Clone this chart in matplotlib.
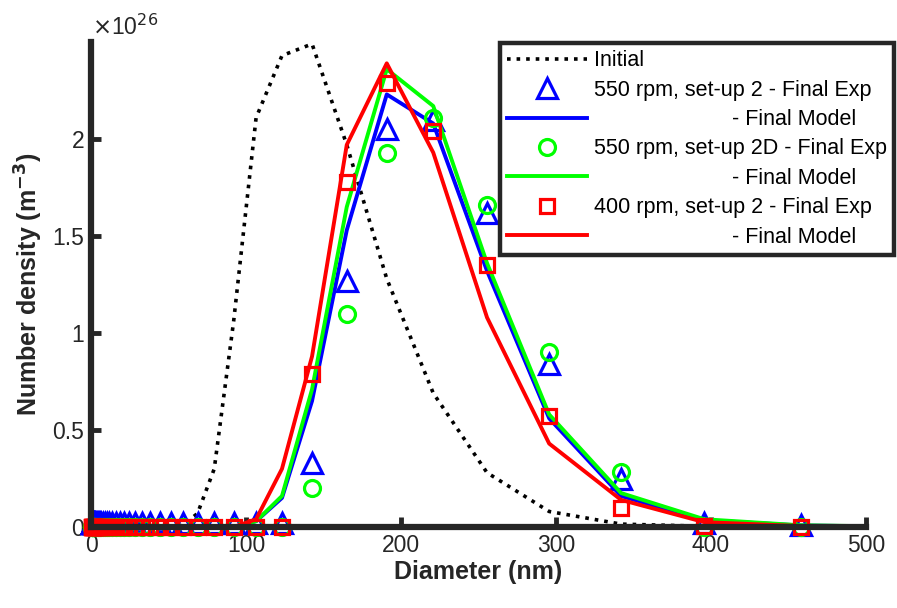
import numpy as np
import matplotlib
matplotlib.use('Agg')
import matplotlib.pyplot as plt

plt.rcParams['font.family'] = ['Liberation Sans', 'DejaVu Sans']

# diameters of the size classes (nm)
diam = [0.5, 0.6, 0.7, 0.8, 0.9, 1.0, 1.2, 1.4, 1.6, 1.8,
        2.1, 2.4, 2.8, 3.2, 3.7, 4.3, 5.0, 5.7, 6.6, 7.7,
        8.9, 10.3, 11.9, 13.8, 15.9, 18.4, 21.3, 24.7, 28.5, 33.0,
        38.3, 44.3, 51.3, 59.3, 68.7, 79.5, 92.0, 106.5, 123.2, 142.6,
        165.0, 190.8, 220.8, 255.5, 295.6, 342.0, 395.7, 457.8]
# model / initial grid goes one class further (clipped at 500)
diam_model = diam + [529.8]

# number density in units of 1e26 m^-3
initial = [0, 0, 0, 0, 0, 0, 0, 0, 0, 0,
           0, 0, 0, 0, 0, 0, 0, 0, 0, 0,
           0, 0, 0, 0, 0, 0, 0, 0, 0, 0,
           0, 0, 0, 0.01, 0.07, 0.30, 1.06, 2.11, 2.43, 2.49,
           1.97, 1.28, 0.69, 0.28, 0.08, 0.015, 0.004, 0.001, 0.0]

exp_550_2 = [0.02, 0.02, 0.02, 0.02, 0.02, 0.02, 0.02, 0.02, 0.02, 0.02,
             0.02, 0.02, 0.02, 0.02, 0.02, 0.02, 0.02, 0.02, 0.02, 0.02,
             0.02, 0.02, 0.02, 0.02, 0.02, 0.02, 0.02, 0.02, 0.02, 0.02,
             0.02, 0.02, 0.02, 0.02, 0.02, 0.02, 0.02, 0.02, 0.02, 0.33,
             1.27, 2.05, 2.10, 1.62, 0.84, 0.25, 0.02, 0.01]
mod_550_2 = [0, 0, 0, 0, 0, 0, 0, 0, 0, 0,
             0, 0, 0, 0, 0, 0, 0, 0, 0, 0,
             0, 0, 0, 0, 0, 0, 0, 0, 0, 0,
             0, 0, 0, 0, 0, 0, 0, 0.03, 0.15, 0.65,
             1.53, 2.23, 2.08, 1.32, 0.56, 0.16, 0.035, 0.008, 0.001]

exp_550_2D = [0, 0, 0, 0, 0, 0, 0, 0, 0, 0,
              0, 0, 0, 0, 0, 0, 0, 0, 0, 0,
              0, 0, 0, 0, 0, 0, 0, 0, 0, 0,
              0, 0, 0, 0, 0, 0, 0, 0, 0, 0.20,
              1.10, 1.93, 2.11, 1.66, 0.90, 0.285, 0.0, 0.0]
mod_550_2D = [0, 0, 0, 0, 0, 0, 0, 0, 0, 0,
              0, 0, 0, 0, 0, 0, 0, 0, 0, 0,
              0, 0, 0, 0, 0, 0, 0, 0, 0, 0,
              0, 0, 0, 0, 0, 0, 0, 0.03, 0.16, 0.71,
              1.65, 2.36, 2.17, 1.36, 0.58, 0.175, 0.04, 0.009, 0.001]

exp_400_2 = [0, 0, 0, 0, 0, 0, 0, 0, 0, 0,
             0, 0, 0, 0, 0, 0, 0, 0, 0, 0,
             0, 0, 0, 0, 0, 0, 0, 0, 0, 0,
             0, 0, 0, 0, 0, 0, 0, 0, 0, 0.79,
             1.78, 2.29, 2.04, 1.35, 0.57, 0.10, 0.005, 0.0]
mod_400_2 = [0, 0, 0, 0, 0, 0, 0, 0, 0, 0,
             0, 0, 0, 0, 0, 0, 0, 0, 0, 0,
             0, 0, 0, 0, 0, 0, 0, 0, 0, 0,
             0, 0, 0, 0, 0, 0, 0, 0.04, 0.30, 0.88,
             1.97, 2.39, 1.93, 1.08, 0.43, 0.14, 0.025, 0.005, 0.0]

labels = ['Initial',
          '550 rpm, set-up 2 - Final Exp',
          '                       - Final Model',
          '550 rpm, set-up 2D - Final Exp',
          '                       - Final Model',
          '400 rpm, set-up 2 - Final Exp',
          '                       - Final Model']

dark = '#262626'
fig = plt.figure(figsize=(8.97, 6.08), dpi=100)
ax = fig.add_axes([0.1015, 0.1332, 0.8639, 0.7977])

mew = 2.3
h0, = ax.plot(diam_model, initial, ':', color='k', lw=2.6)
h1, = ax.plot(diam, exp_550_2, '^', ls='none', mec='b', mfc='none', ms=14.5, mew=mew, clip_on=False)
h2, = ax.plot(diam_model, mod_550_2, '-', color='b', lw=2.8)
h3, = ax.plot(diam, exp_550_2D, 'o', ls='none', mec=(0, 1, 0), mfc='none', ms=11.5, mew=mew, clip_on=False)
h4, = ax.plot(diam_model, mod_550_2D, '-', color=(0, 1, 0), lw=2.8)
h5, = ax.plot(diam, exp_400_2, 's', ls='none', mec='r', mfc='none', ms=10, mew=mew, clip_on=False)
h6, = ax.plot(diam_model, mod_400_2, '-', color='r', lw=2.8)

ax.set_xlim(0, 500)
ax.set_ylim(0, 2.5)
ax.set_xticks([0, 100, 200, 300, 400, 500])
ax.set_yticks([0, 0.5, 1, 1.5, 2])
ax.set_yticklabels(['0', '0.5', '1', '1.5', '2'])
ax.tick_params(direction='in', length=7, width=3.5, colors=dark, labelsize=16.5, pad=5)
for side in ['top', 'right']:
    ax.spines[side].set_visible(False)
for side in ['left', 'bottom']:
    ax.spines[side].set_linewidth(4.5)
    ax.spines[side].set_color(dark)

ax.set_xlabel('Diameter (nm)', fontsize=18, fontweight='bold', color=dark, labelpad=2)
ax.set_ylabel('Number density (m$^{\\mathbf{-3}}$)', fontsize=18, fontweight='bold', color=dark, labelpad=5)
fig.text(0.103, 0.942, '$\\times$10$^{26}$', fontsize=16.5, color=dark, va='baseline')

leg = ax.legend([h0, h1, h2, h3, h4, h5, h6], labels,
                loc='upper left', bbox_to_anchor=(0.5574, 0.929), bbox_transform=fig.transFigure,
                fontsize=15.5, handlelength=3.7, labelspacing=0.39, handletextpad=0.33,
                borderpad=0.33, borderaxespad=0, fancybox=False, framealpha=1)
leg.get_frame().set_edgecolor(dark)
leg.get_frame().set_linewidth(3.2)

fig.savefig('out.png', dpi=100)
